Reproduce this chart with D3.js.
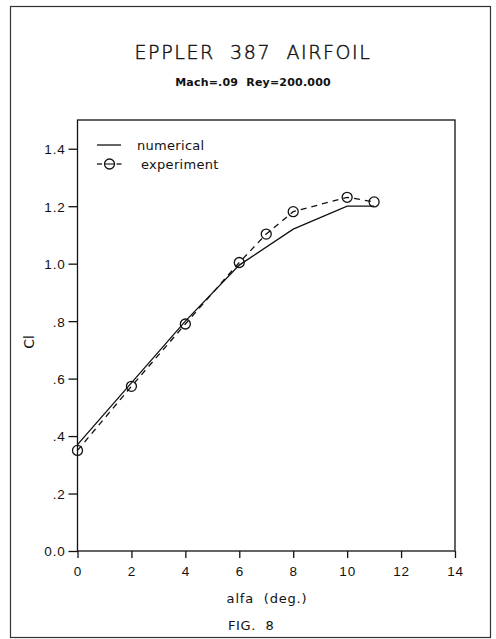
<!DOCTYPE html>
<html>
<head>
<meta charset="utf-8">
<script src="https://cdn.jsdelivr.net/npm/d3@7"></script>
<style>
  html, body { margin: 0; padding: 0; background: #fff; }
  svg { display: block; }
  text { font-family: "Liberation Sans", "DejaVu Sans", Arial, sans-serif; fill: #111; }
</style>
</head>
<body>
<script>
// Lift coefficient vs. angle of attack, Eppler 387 section
const alfaTicks = [0, 2, 4, 6, 8, 10, 12, 14];
const clTicks = [0, 0.2, 0.4, 0.6, 0.8, 1.0, 1.2, 1.4];
const clTickLabels = ["0.0", ".2", ".4", ".6", ".8", "1.0", "1.2", "1.4"];

const numericalAlfa = [0, 2, 4, 6, 8, 10, 11];
const numericalCl   = [0.37, 0.585, 0.80, 0.995, 1.12, 1.20, 1.20];

const experimentAlfa = [0, 2, 4, 6, 7, 8, 10, 11];
const experimentCl   = [0.35, 0.573, 0.79, 1.004, 1.103, 1.181, 1.231, 1.215];

const W = 496, H = 639;
const plot = { left: 77.5, right: 455, top: 120, bottom: 551 };
const dv = "'DejaVu Sans', sans-serif";

const svg = d3.select("body").append("svg")
  .attr("width", W).attr("height", H);

// page frame
svg.append("rect")
  .attr("x", 10.5).attr("y", 6.5)
  .attr("width", 480).attr("height", 631)
  .attr("fill", "none").attr("stroke", "#333").attr("stroke-width", 1.2);

const x = d3.scaleLinear().domain([0, 14]).range([plot.left, plot.right]);
const y = d3.scaleLinear().domain([0, 1.5]).range([plot.bottom, plot.top]);

// titles
svg.append("text")
  .attr("x", 253).attr("y", 59)
  .attr("text-anchor", "middle")
  .style("font-family", dv)
  .style("font-weight", 200)
  .style("font-size", "19px")
  .style("letter-spacing", "1.6px")
  .attr("stroke", "#111").attr("stroke-width", 0.45)
  .attr("xml:space", "preserve")
  .text("EPPLER  387  AIRFOIL");

svg.append("text")
  .attr("x", 253).attr("y", 86)
  .attr("text-anchor", "middle")
  .style("font-family", dv)
  .style("font-weight", "bold")
  .style("font-size", "11px")
  .style("letter-spacing", "0.2px")
  .attr("xml:space", "preserve")
  .text("Mach=.09  Rey=200.000");

// plot frame
svg.append("rect")
  .attr("x", plot.left).attr("y", plot.top)
  .attr("width", plot.right - plot.left).attr("height", plot.bottom - plot.top)
  .attr("fill", "none").attr("stroke", "#111").attr("stroke-width", 1.3);

// axes
const xAxis = d3.axisBottom(x).tickValues(alfaTicks).tickSize(7).tickPadding(8)
  .tickFormat(d3.format("d"));
const gx = svg.append("g").attr("transform", `translate(0,${plot.bottom})`).call(xAxis);

const yAxis = d3.axisLeft(y).tickValues(clTicks).tickSize(9).tickPadding(3)
  .tickFormat((d, i) => clTickLabels[i]);
const gy = svg.append("g").attr("transform", `translate(${plot.left},0)`).call(yAxis);

[gx, gy].forEach(g => {
  g.select(".domain").remove();
  g.selectAll(".tick line").attr("stroke", "#111").attr("stroke-width", 1.3);
  g.selectAll(".tick text")
    .style("font-size", "13.5px")
    .style("letter-spacing", "0.8px")
    .attr("fill", "#111");
});
gy.selectAll(".tick text").attr("dy", "0.36em");

// axis titles
svg.append("text")
  .attr("transform", `translate(34,342) rotate(-90)`)
  .attr("text-anchor", "middle")
  .style("font-family", dv)
  .style("font-size", "14px")
  .text("Cl");

svg.append("text")
  .attr("x", 267).attr("y", 603)
  .attr("text-anchor", "middle")
  .style("font-family", dv)
  .style("font-size", "13px")
  .style("letter-spacing", "0.8px")
  .attr("xml:space", "preserve")
  .text("alfa  (deg.)");

svg.append("text")
  .attr("x", 228).attr("y", 630)
  .style("font-family", dv)
  .style("font-size", "13px")
  .style("letter-spacing", "0.6px")
  .attr("xml:space", "preserve")
  .text("FIG.  8");

// data series
const numerical = numericalAlfa.map((a, i) => [a, numericalCl[i]]);
const experiment = experimentAlfa.map((a, i) => [a, experimentCl[i]]);
const line = d3.line().x(d => x(d[0])).y(d => y(d[1]));

svg.append("path")
  .datum(numerical)
  .attr("d", line)
  .attr("fill", "none").attr("stroke", "#111").attr("stroke-width", 1.3);

svg.append("path")
  .datum(experiment)
  .attr("d", line)
  .attr("fill", "none").attr("stroke", "#111").attr("stroke-width", 1.3)
  .attr("stroke-dasharray", "6,5");

svg.append("g").selectAll("circle")
  .data(experiment)
  .join("circle")
  .attr("cx", d => x(d[0])).attr("cy", d => y(d[1]))
  .attr("r", 5)
  .attr("fill", "none").attr("stroke", "#111").attr("stroke-width", 1.3);

// legend
const lg = svg.append("g");
lg.append("line")
  .attr("x1", 97).attr("x2", 121).attr("y1", 145).attr("y2", 145)
  .attr("stroke", "#111").attr("stroke-width", 1.3);
lg.append("text")
  .attr("x", 137).attr("y", 149.5)
  .style("font-family", dv)
  .style("font-size", "13px")
  .style("letter-spacing", "0.3px")
  .text("numerical");

lg.append("line")
  .attr("x1", 97).attr("x2", 102).attr("y1", 164).attr("y2", 164)
  .attr("stroke", "#111").attr("stroke-width", 1.3);
lg.append("line")
  .attr("x1", 116.5).attr("x2", 121.5).attr("y1", 164).attr("y2", 164)
  .attr("stroke", "#111").attr("stroke-width", 1.3);
lg.append("circle")
  .attr("cx", 109.5).attr("cy", 164).attr("r", 5)
  .attr("fill", "none").attr("stroke", "#111").attr("stroke-width", 1.3);
lg.append("line")
  .attr("x1", 104.5).attr("x2", 114.5).attr("y1", 164).attr("y2", 164)
  .attr("stroke", "#111").attr("stroke-width", 1.1);
lg.append("text")
  .attr("x", 141).attr("y", 168.5)
  .style("font-family", dv)
  .style("font-size", "13px")
  .style("letter-spacing", "0.3px")
  .text("experiment");
</script>
</body>
</html>
